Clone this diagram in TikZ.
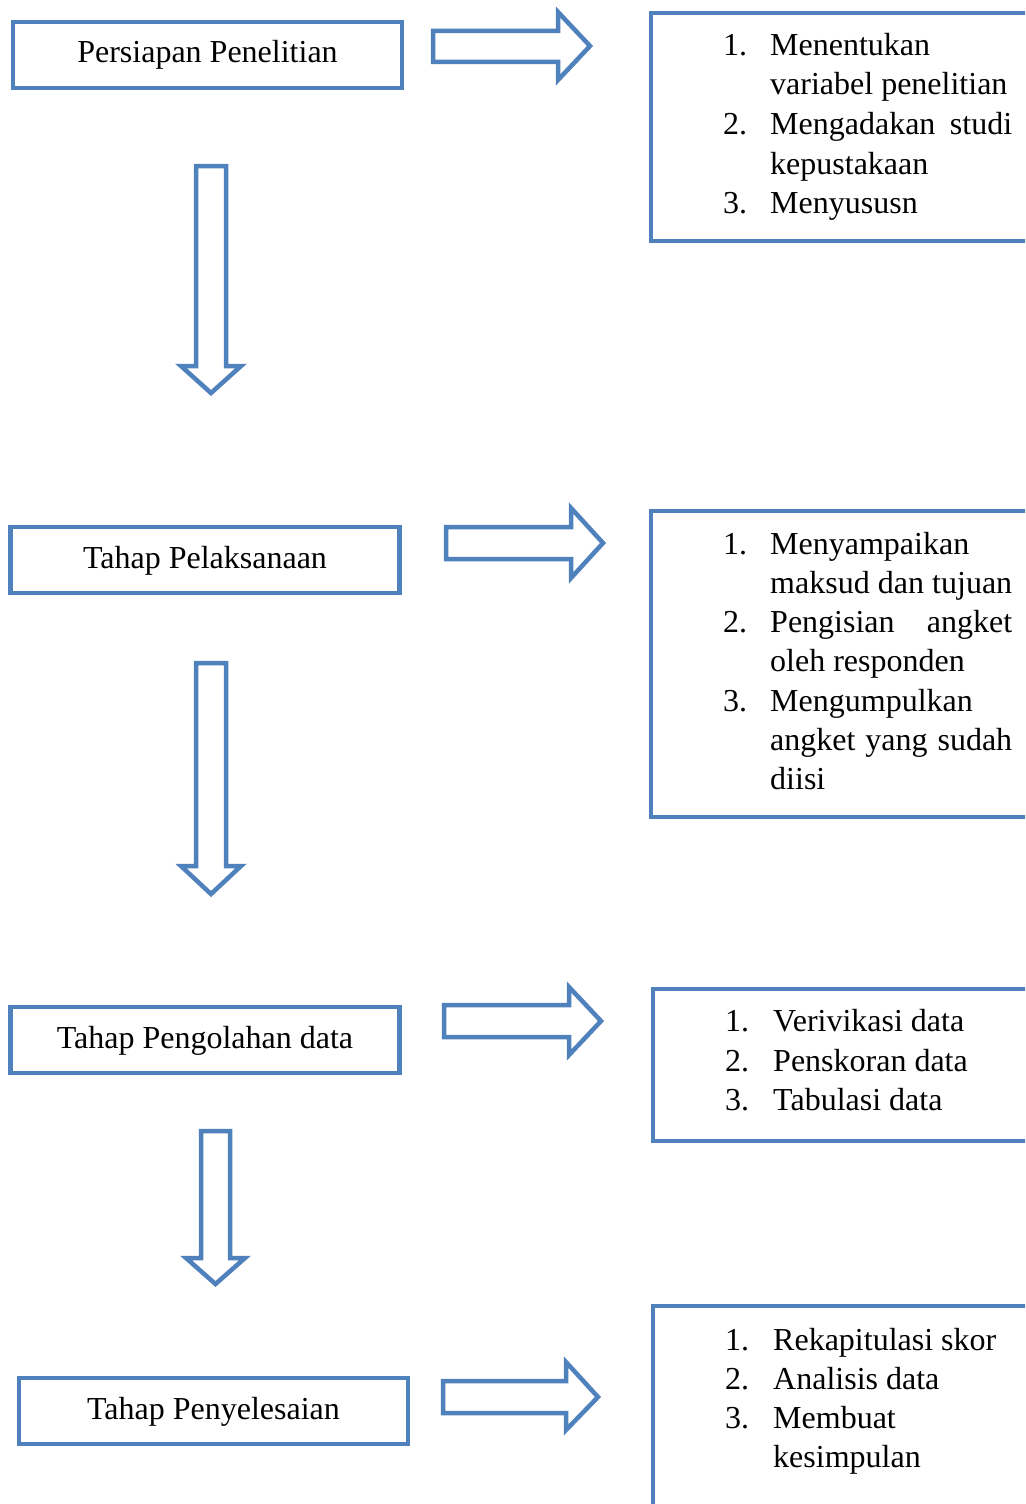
\documentclass[tikz,border=0pt]{standalone}
\usepackage{fontspec}
\setmainfont{Liberation Serif}
\definecolor{boxblue}{HTML}{4F81BD}
\begin{document}
\begin{tikzpicture}[x=1pt,y=-1pt,
  every node/.style={font=\fontsize{32}{39}\selectfont},
  stage/.style={draw=boxblue,line width=4.5pt,rectangle,minimum width=389pt,minimum height=66pt,inner sep=0pt,text height=23pt,text depth=7pt},
  panel/.style={draw=boxblue,line width=4.5pt,rectangle,anchor=north west,inner sep=0pt,outer sep=0pt},
  blockarrow/.style={draw=boxblue,line width=4.5pt,line join=miter,miter limit=10,fill=white},
  num/.style={anchor=base west,inner sep=0pt},
  item/.style={anchor=base west,inner sep=0pt}]
\useasboundingbox (0,0) rectangle (1025,1504);
\clip (0,0) rectangle (1025,1504);
\fill[white] (0,0) rectangle (1025,1504);

% stage boxes
\node[stage] (s1) at (207.5,55) {Persiapan Penelitian};
\node[stage] (s2) at (205,560) {Tahap Pelaksanaan};
\node[stage] (s3) at (205,1040) {Tahap Pengolahan data};
\node[stage] (s4) at (213.5,1411) {Tahap Penyelesaian};

% right panels
\node[panel,minimum width=400pt,minimum height=228pt] (p1) at (651,13) {};
\node[panel,minimum width=400pt,minimum height=306pt] (p2) at (651,511) {};
\node[panel,minimum width=400pt,minimum height=152pt] (p3) at (653,989) {};
\node[panel,minimum width=400pt,minimum height=230pt] (p4) at (653,1306) {};

% right block arrows
\draw[blockarrow] (433,31) -- (558,31) -- (558,12) -- (590,46) -- (558,80) -- (558,62) -- (433,62) -- cycle;
\draw[blockarrow] (446,527) -- (571,527) -- (571,508) -- (603,543) -- (571,578) -- (571,559) -- (446,559) -- cycle;
\draw[blockarrow] (444,1005) -- (569,1005) -- (569,987) -- (601,1021) -- (569,1055) -- (569,1037) -- (444,1037) -- cycle;
\draw[blockarrow] (443,1381) -- (566,1381) -- (566,1362) -- (598,1397) -- (566,1430) -- (566,1413) -- (443,1413) -- cycle;

% down block arrows
\draw[blockarrow] (196,166) -- (226,166) -- (226,366) -- (241,366) -- (211,393) -- (181,366) -- (196,366) -- cycle;
\draw[blockarrow] (196,663) -- (226,663) -- (226,866) -- (241,866) -- (211,894) -- (181,866) -- (196,866) -- cycle;
\draw[blockarrow] (201,1131) -- (230,1131) -- (230,1258) -- (245,1258) -- (215.5,1284) -- (186,1258) -- (201,1258) -- cycle;

% panel 1 text
\node[num] (n11) at (723,56) {1.};
\node[item] (t11) at (770,56) {Menentukan};
\node[item] (t12) at (770,95) {variabel penelitian};
\node[num] (n12) at (723,134) {2.};
\node[item] (t13) at (770,134) {\hbox to 242pt{Mengadakan\hfill studi}};
\node[item] (t14) at (770,174) {kepustakaan};
\node[num] (n13) at (723,213) {3.};
\node[item] (t15) at (770,213) {Menyususn};

% panel 2 text
\node[num] (n21) at (723,554) {1.};
\node[item] (t21) at (770,554) {Menyampaikan};
\node[item] (t22) at (770,593) {\hbox to 242pt{maksud\hfill dan\hfill tujuan}};
\node[num] (n22) at (723,632) {2.};
\node[item] (t23) at (770,632) {\hbox to 242pt{Pengisian\hfill angket}};
\node[item] (t24) at (770,671) {oleh responden};
\node[num] (n23) at (723,711) {3.};
\node[item] (t25) at (770,711) {Mengumpulkan};
\node[item] (t26) at (770,750) {\hbox to 242pt{angket\hfill yang\hfill sudah}};
\node[item] (t27) at (770,789) {diisi};

% panel 3 text
\node[num] (n31) at (725,1031) {1.};
\node[item] (t31) at (773,1031) {Verivikasi data};
\node[num] (n32) at (725,1071) {2.};
\node[item] (t32) at (773,1071) {Penskoran data};
\node[num] (n33) at (725,1110) {3.};
\node[item] (t33) at (773,1110) {Tabulasi data};

% panel 4 text
\node[num] (n41) at (725,1350) {1.};
\node[item] (t41) at (773,1350) {Rekapitulasi skor};
\node[num] (n42) at (725,1389) {2.};
\node[item] (t42) at (773,1389) {Analisis data};
\node[num] (n43) at (725,1428) {3.};
\node[item] (t43) at (773,1428) {Membuat};
\node[item] (t44) at (773,1467) {kesimpulan};
\end{tikzpicture}
\end{document}
